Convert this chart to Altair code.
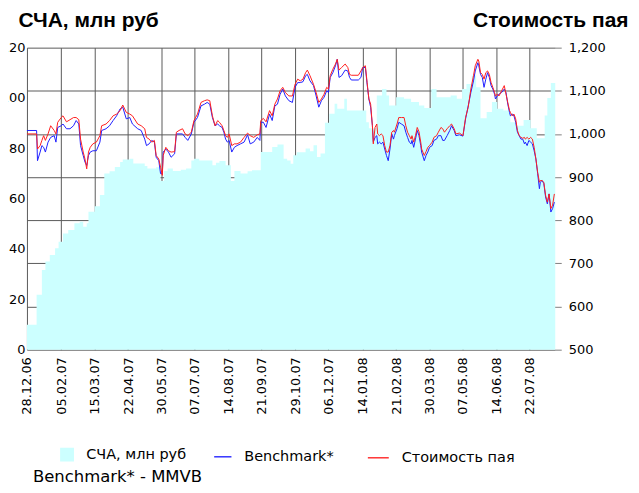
import altair as alt
import pandas as pd

START = "2006-12-28"

# СЧА, млн руб: step series (days since 28.12.06, value)
scha_days = [0, 11, 17, 21, 26, 32, 36, 41, 47, 54, 60, 64, 68, 70, 77, 83, 88, 94, 100, 106,
             109, 117, 121, 126, 134, 137, 147, 152, 156, 160, 166, 175, 181, 187, 190, 196,
             211, 215, 219, 226, 232, 236, 243, 251, 256, 266, 279, 285, 292, 296, 300, 303,
             307, 317, 322, 326, 330, 334, 339, 344, 350, 353, 361, 364, 386, 389, 398, 404,
             409, 412, 420, 429, 437, 446, 452, 460, 466, 482, 489, 495, 500, 506, 511, 516,
             523, 529, 535, 542, 550, 557, 565, 573, 580, 589, 592, 596, 601]
scha_values = [9.9, 21.8, 31.7, 35.0, 37.6, 40.3, 42.9, 46.2, 47.5, 50.2, 50.8, 48.8, 50.2, 54.8,
               57.0, 61.5, 70.0, 70.9, 72.6, 74.6, 75.6, 75.9, 74.0, 74.0, 73.0, 72.0, 72.5, 67.0,
               71.0, 72.0, 71.0, 71.5, 72.0, 75.2, 75.9, 75.2, 73.3, 74.3, 75.0, 73.3, 67.0, 71.0,
               70.0, 70.9, 71.3, 78.5, 80.5, 81.5, 75.9, 75.2, 73.9, 77.2, 78.4, 79.9, 78.8, 81.2,
               76.6, 77.9, 90.2, 93.7, 97.7, 95.7, 99.7, 95.0, 90.4, 88.0, 101.0, 103.6, 101.0,
               97.0, 100.3, 99.7, 98.4, 97.0, 96.0, 103.6, 100.3, 101.0, 99.7, 103.6, 105.6, 108.9,
               104.3, 91.9, 94.4, 98.4, 95.7, 95.0, 90.4, 89.0, 91.3, 88.0, 84.0, 93.0, 100.0,
               106.0, 106.0]

# lines: days since 28.12.06
line_days = [0, 11, 12, 15, 17, 19, 21, 24, 27, 31, 33, 35, 39, 41, 45, 49, 53, 56, 59, 61, 64, 66,
             68, 70, 72, 75, 79, 83, 85, 90, 94, 98, 102, 106, 109, 113, 117,
             120, 126, 130, 134, 136, 139, 142, 145, 147, 150, 152, 154, 155, 158, 161, 164, 168,
             170, 173, 177, 180, 183, 187, 190, 194, 198, 202, 205, 208, 211, 214, 217, 219, 222,
             224, 226, 228, 230, 233, 236, 239,
             243, 247, 251, 254, 258, 262, 265, 266, 269, 272, 276, 279, 282, 285, 288, 291, 294,
             298, 302, 305, 308, 311, 314, 317, 319, 322, 326, 329, 332, 335, 338, 341, 343, 345,
             348, 351, 353, 355, 358, 362,
             365, 367, 369, 377, 380, 382, 385, 387, 389, 391, 393, 394, 396, 398, 399, 401, 403,
             405, 407, 409, 411, 413, 415, 417, 418, 421, 423, 426, 429, 431, 433, 435, 437, 438,
             440, 442, 444, 446, 448, 449, 452, 454, 456, 458, 461, 463, 466, 468, 471, 473, 475,
             478, 481, 483, 486,
             488, 492, 496, 499, 502, 505, 508, 510, 513, 514, 516, 518, 520, 522, 524, 526, 528,
             530, 532, 533, 535, 537, 540, 543, 545, 547, 549, 550, 552, 554, 556, 558, 560, 562,
             564, 566, 567, 569, 571, 573, 575, 577, 579, 581, 583, 584, 586, 588, 590, 592, 594,
             596, 598, 600]
stoimost_paya = [1000, 1000, 965, 973, 985, 996, 985, 1000, 1019, 1008, 1000, 1027, 1038, 1042, 1028,
                 1033, 1038, 1038, 1033, 988, 958, 942, 919, 958, 969, 977, 981, 996, 1019, 1023, 1031,
                 1042, 1046, 1054, 1067, 1050, 1046,
                 1042, 1023, 1019, 1012, 992, 988, 981, 985, 950, 942, 923, 904, 950, 969, 961, 958,
                 959, 1004, 1008, 1012, 1000, 996, 1004, 1031, 1046, 1073, 1077, 1079, 1077, 1042,
                 1019, 1031, 1027, 1019, 1008, 996, 992, 1000, 973, 977, 977,
                 981, 992, 1002, 996, 992, 998, 1000, 1031, 1036, 1028, 1054, 1042, 1069, 1081, 1100,
                 1108, 1096, 1088, 1088, 1115, 1127, 1123, 1127, 1142, 1148, 1135, 1115, 1096, 1073,
                 1081, 1092, 1108, 1104, 1135, 1150, 1162, 1173, 1148, 1154, 1162,
                 1154, 1138, 1136, 1136, 1146, 1154, 1158, 1119, 1081, 1069, 1019, 977, 1015, 1023,
                 1000, 996, 1000, 996, 973, 958, 958, 973, 1004, 1008, 1004, 1023, 1038, 1038, 1038,
                 1019, 1004, 996, 988, 996, 981, 996, 1015, 1005, 981, 965, 950, 959, 969, 973, 981,
                 992, 996, 1004, 1015, 1012, 1004, 1012, 1019, 1023, 1012,
                 1000, 1002, 996, 1038, 1062, 1104, 1135, 1158, 1173, 1169, 1142, 1138, 1127, 1142,
                 1146, 1138, 1119, 1108, 1096, 1088, 1092, 1088, 1100, 1112, 1092, 1073, 1054, 1050,
                 1042, 1046, 1035, 1008, 996, 992, 990, 992, 988, 992, 988, 992, 988, 969, 942, 911,
                 888, 892, 892, 888, 858, 842, 861, 827, 835, 861]
benchmark = [1008, 1008, 938, 958, 973, 969, 958, 981, 992, 996, 981, 1015, 1019, 1023, 1012,
             1012, 1019, 1031, 1023, 973, 950, 935, 927, 950, 958, 961, 961, 981, 1008, 1012, 1019,
             1031, 1042, 1058, 1062, 1035, 1038,
             1023, 1012, 1008, 988, 973, 977, 985, 981, 946, 938, 908, 908, 958, 965, 958, 946,
             954, 1000, 1000, 1000, 992, 985, 1000, 1027, 1038, 1065, 1069, 1073, 1069, 1038,
             1019, 1023, 1019, 1015, 1004, 988, 981, 985, 958, 969, 973,
             977, 981, 998, 977, 981, 992, 985, 1027, 1027, 1015, 1046, 1031, 1065, 1069, 1092,
             1104, 1088, 1077, 1073, 1108, 1119, 1119, 1121, 1135, 1138, 1123, 1112, 1088, 1062,
             1077, 1085, 1100, 1096, 1131, 1142, 1158, 1173, 1131, 1135, 1148,
             1146, 1131, 1125, 1125, 1131, 1154, 1154, 1115, 1081, 1062, 1019, 981, 992, 996,
             977, 981, 977, 981, 965, 950, 938, 965, 1000, 988, 996, 1012, 1027, 1023, 1019,
             1004, 992, 981, 977, 985, 969, 988, 1008, 996, 973, 958, 938, 950, 958, 969, 973,
             985, 988, 996, 996, 985, 985, 996, 1008, 1019, 1008,
             996, 998, 995, 1035, 1065, 1096, 1123, 1146, 1165, 1158, 1138, 1131, 1108, 1127,
             1142, 1131, 1112, 1104, 1092, 1081, 1088, 1092, 1096, 1104, 1096, 1069, 1050, 1042,
             1046, 1042, 1027, 1004, 996, 988, 988, 977, 981, 973, 985, 981, 977, 961, 942, 908,
             873, 888, 892, 885, 854, 838, 861, 819, 827, 842]

tick_labels = ["28.12.06", "05.02.07", "15.03.07", "22.04.07", "30.05.07", "07.07.07",
               "14.08.07", "21.09.07", "29.10.07", "06.12.07", "14.01.08", "21.02.08",
               "30.03.08", "07.05.08", "14.06.08", "22.07.08"]
left_ticks = [0, 20, 40, 60, 80, 100, 120]
right_ticks = [500, 600, 700, 800, 900, 1000, 1100, 1200]
legend_names = ["СЧА, млн руб", "Benchmark*", "Стоимость пая"]
legend_colors = ["#ccffff", "#0000ff", "#ff0000"]
footnote = "Benchmark* - MMVB"

base = pd.Timestamp(START)


def iso(days):
    return [(base + pd.Timedelta(days=int(d))).strftime("%Y-%m-%dT%H:%M:%S") for d in days]


def dt(ts):
    return alt.DateTime(year=ts.year, month=ts.month, date=ts.day)


scha_df = pd.DataFrame({"date": iso(scha_days), "scha": scha_values})
lines_df = pd.DataFrame({"date": iso(line_days),
                         "Benchmark*": benchmark,
                         "Стоимость пая": stoimost_paya})
long_df = lines_df.melt("date", var_name="series", value_name="value")

tick_dates = [dt(pd.to_datetime(t, format="%d.%m.%y")) for t in tick_labels]
x_domain = [dt(base), dt(base + pd.Timedelta(days=int(scha_days[-1])))]

GRID = "#5a5a5a"
LABEL_FONT = "DejaVu Sans"
TITLE_FONT = "Liberation Sans"

x_axis = alt.Axis(values=tick_dates, format="%d.%m.%y", labelAngle=-90,
                  grid=True, gridColor=GRID, gridWidth=1, ticks=False,
                  domain=False, labelPadding=7, labelFont=LABEL_FONT,
                  labelFontSize=13, labelColor="black", labelFlush=False,
                  labelOverlap=False, labelSeparation=0, labelBound=False, title=None)
x_scale = alt.Scale(domain=x_domain)

area = alt.Chart(scha_df).mark_area(interpolate="step-after", color="#ccffff").encode(
    x=alt.X("date:T", scale=x_scale, axis=x_axis),
    y=alt.Y("scha:Q",
            scale=alt.Scale(domain=[0, 120], nice=False),
            axis=alt.Axis(orient="left", values=left_ticks, grid=False, ticks=False,
                          domain=False, labelPadding=2, labelFont=LABEL_FONT,
                          labelFontSize=13, labelColor="black", labelFlush=False,
                          title="СЧА, млн руб", titleAngle=0, titleAlign="left",
                          titleBaseline="alphabetic", titleX=-9, titleY=-21,
                          titleFont=TITLE_FONT, titleFontSize=21, titleFontWeight="bold",
                          titleColor="black")),
)

lines = alt.Chart(long_df).mark_line(strokeWidth=1).encode(
    x=alt.X("date:T", scale=x_scale, axis=x_axis),
    y=alt.Y("value:Q",
            scale=alt.Scale(domain=[500, 1200], nice=False, zero=False),
            axis=alt.Axis(orient="right", values=right_ticks, format=",d", grid=True,
                          gridColor=GRID, gridWidth=1, ticks=True, tickSize=6,
                          tickColor="#808080", domain=False, labelPadding=7,
                          labelFont=LABEL_FONT, labelFontSize=13, labelColor="black",
                          labelFlush=False, title="Стоимость пая", titleAngle=0,
                          titleAlign="right", titleBaseline="alphabetic", titleX=73,
                          titleY=-21, titleFont=TITLE_FONT, titleFontSize=21,
                          titleFontWeight="bold", titleColor="black")),
    color=alt.Color("series:N",
                    scale=alt.Scale(domain=["Benchmark*", "Стоимость пая"],
                                    range=["#2020ff", "#ff2020"]),
                    legend=None),
    order=alt.Order("series:N", sort="ascending"),
)

leg = alt.Legend(title=None, orient="none", legendX=33, legendY=400, direction="horizontal",
                 labelFont=LABEL_FONT, labelFontSize=14.5, labelColor="black",
                 gridAlign="all", columnPadding=3, labelOffset=12, padding=0,
                 symbolStrokeWidth=1.2)

legend_df = pd.DataFrame({"series": legend_names})
legend_layer = alt.Chart(legend_df).mark_point(clip=True, filled=True, opacity=1).encode(
    x=alt.value(-100),
    y=alt.value(-100),
    fill=alt.Fill("series:N", scale=alt.Scale(domain=legend_names, range=legend_colors),
                  legend=leg),
    stroke=alt.Stroke("series:N", scale=alt.Scale(domain=legend_names, range=legend_colors),
                      legend=leg),
    shape=alt.Shape("series:N",
                    scale=alt.Scale(domain=legend_names, range=["square", "stroke", "stroke"]),
                    legend=leg),
    size=alt.Size("series:N", scale=alt.Scale(domain=legend_names, range=[160, 441, 441]),
                  legend=leg),
)

note = alt.Chart(pd.DataFrame({"note": [footnote]})).mark_text(
    align="left", baseline="alphabetic", font=LABEL_FONT, fontSize=16.5, color="black"
).encode(x=alt.value(6), y=alt.value(436), text="note:N")

chart = alt.layer(area, lines, legend_layer, note).resolve_scale(
    y="independent"
).properties(
    width=530, height=303,
    autosize=alt.AutoSizeParams(type="none"),
    padding={"left": 19, "top": 39, "right": 76, "bottom": 138},
    background="white",
).configure_view(stroke=None)

chart.save("out.html", embed_options={"renderer": "svg", "actions": False})
